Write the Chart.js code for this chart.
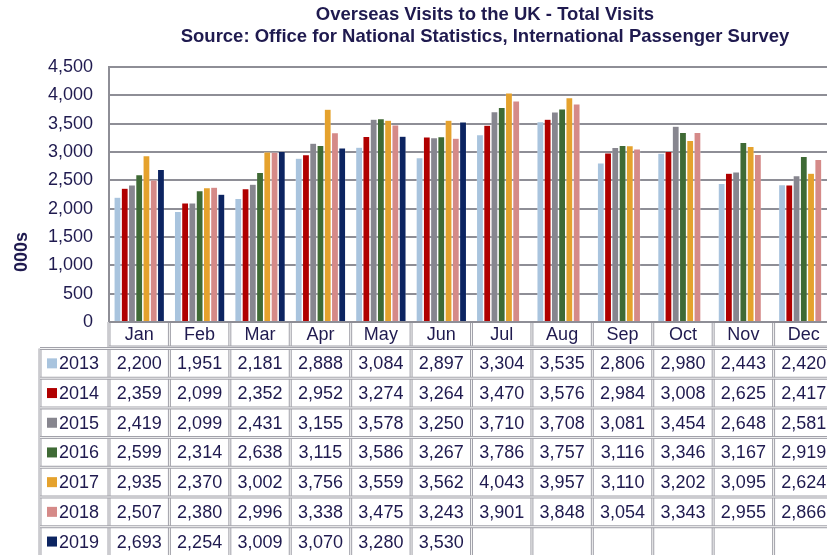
<!DOCTYPE html>
<html>
<head>
<meta charset="utf-8">
<script src="https://cdn.jsdelivr.net/npm/chart.js@4.4.1/dist/chart.umd.min.js"></script>
<style>
  html, body { margin: 0; padding: 0; background: #fff; overflow: hidden; }
  #wrap { width: 836px; height: 555px; }
</style>
</head>
<body>
<div id="wrap"><canvas id="grafico" width="836" height="555"></canvas></div>
<script>
const months = ['Jan', 'Feb', 'Mar', 'Apr', 'May', 'Jun', 'Jul', 'Aug', 'Sep', 'Oct', 'Nov', 'Dec'];
const years = ['2013', '2014', '2015', '2016', '2017', '2018', '2019'];
const v2013 = [2200, 1951, 2181, 2888, 3084, 2897, 3304, 3535, 2806, 2980, 2443, 2420];
const v2014 = [2359, 2099, 2352, 2952, 3274, 3264, 3470, 3576, 2984, 3008, 2625, 2417];
const v2015 = [2419, 2099, 2431, 3155, 3578, 3250, 3710, 3708, 3081, 3454, 2648, 2581];
const v2016 = [2599, 2314, 2638, 3115, 3586, 3267, 3786, 3757, 3116, 3346, 3167, 2919];
const v2017 = [2935, 2370, 3002, 3756, 3559, 3562, 4043, 3957, 3110, 3202, 3095, 2624];
const v2018 = [2507, 2380, 2996, 3338, 3475, 3243, 3901, 3848, 3054, 3343, 2955, 2866];
const v2019 = [2693, 2254, 3009, 3070, 3280, 3530, null, null, null, null, null, null];
const yTicks = [0, 500, 1000, 1500, 2000, 2500, 3000, 3500, 4000, 4500];

const seriesValues = [v2013, v2014, v2015, v2016, v2017, v2018, v2019];
const cores = ['#a9c4de', '#b00000', '#87868f', '#3f6a35', '#e5a22d', '#d58a88', '#0c2461'];
const corTexto = '#1f1a4f';
const corGrade = '#8e8e96';

function fmt(v) {
    return v.toLocaleString('en-US');
}

// desenha titulo, rotulo do eixo e a tabela de dados
const tabelaPlugin = {
    id: 'tabela',
    afterDraw(chart) {
        const ctx = chart.ctx;
        const area = chart.chartArea;
        const x = chart.scales.x;
        const passo = x.getPixelForValue(1) - x.getPixelForValue(0);
        const alturaCanvas = chart.height;

        ctx.save();
        // titulo
        ctx.fillStyle = corTexto;
        ctx.textAlign = 'center';
        ctx.textBaseline = 'middle';
        ctx.font = 'bold 18.5px "Liberation Sans", Arial, sans-serif';
        ctx.fillText('Overseas Visits to the UK - Total Visits', 485, 15);
        ctx.fillText('Source: Office for National Statistics, International Passenger Survey', 485, 37);

        // rotulo eixo y
        ctx.save();
        ctx.translate(22, 252);
        ctx.rotate(-Math.PI / 2);
        ctx.font = 'bold 18px "Liberation Sans", Arial, sans-serif';
        ctx.fillText('000s', 0, 0);
        ctx.restore();

        const topoCab = area.bottom;
        const fimCab = 347;
        const topoLinhas = 348.5;
        const alturaLinha = 29.7;
        const esquerdaLegenda = 40;

        // linhas da tabela
        function linhaDupla(x1, y1, x2, y2) {
            ctx.strokeStyle = '#a2a2aa';
            ctx.lineWidth = 3;
            ctx.beginPath(); ctx.moveTo(x1, y1); ctx.lineTo(x2, y2); ctx.stroke();
            ctx.strokeStyle = '#f4f4f4';
            ctx.lineWidth = 1;
            ctx.beginPath(); ctx.moveTo(x1, y1); ctx.lineTo(x2, y2); ctx.stroke();
        }

        // verticais
        for (let i = 0; i <= months.length; i++) {
            const bx = x.getPixelForValue(0) - passo / 2 + i * passo;
            linhaDupla(bx, topoCab, bx, alturaCanvas);
        }
        linhaDupla(esquerdaLegenda, topoLinhas, esquerdaLegenda, alturaCanvas);

        // horizontais
        linhaDupla(area.left, fimCab, area.right, fimCab);
        for (let r = 0; r < years.length; r++) {
            const ry = topoLinhas + r * alturaLinha;
            linhaDupla(esquerdaLegenda, ry, area.right, ry);
        }

        // eixo inferior
        ctx.strokeStyle = corGrade;
        ctx.lineWidth = 2;
        ctx.beginPath(); ctx.moveTo(area.left, area.bottom); ctx.lineTo(area.right, area.bottom); ctx.stroke();

        // cabecalho com os meses
        ctx.fillStyle = corTexto;
        ctx.font = '18px "Liberation Sans", Arial, sans-serif';
        ctx.textAlign = 'center';
        months.forEach((m, i) => {
            ctx.fillText(m, x.getPixelForValue(i), (topoCab + fimCab) / 2 + 1);
        });

        // linhas de dados
        years.forEach((ano, r) => {
            const cy = topoLinhas + r * alturaLinha + alturaLinha / 2;
            ctx.fillStyle = cores[r];
            ctx.fillRect(47, cy - 5, 10, 10);
            ctx.fillStyle = corTexto;
            ctx.textAlign = 'left';
            ctx.fillText(ano, 59, cy + 1);
            ctx.textAlign = 'center';
            seriesValues[r].forEach((v, i) => {
                if (v !== null) ctx.fillText(fmt(v), x.getPixelForValue(i), cy + 1);
            });
        });
        ctx.restore();
    }
};

const ctx = document.getElementById('grafico').getContext('2d');

new Chart(ctx, {
    type: 'bar',
    data: {
        labels: months,
        datasets: years.map((ano, k) => ({
            label: ano,
            data: seriesValues[k],
            backgroundColor: cores[k],
            borderColor: 'rgba(255,255,255,0.6)',
            borderWidth: 0.5,
            barPercentage: 0.94,
            categoryPercentage: 0.84
        }))
    },
    options: {
        responsive: false,
        animation: false,
        layout: {
            padding: { top: 67, bottom: 233, left: 0, right: 2 }
        },
        plugins: {
            legend: { display: false },
            title: { display: false },
            tooltip: { enabled: false }
        },
        scales: {
            x: {
                display: false
            },
            y: {
                min: 0,
                max: 4500,
                afterFit(scale) { scale.width = 109; },
                afterBuildTicks(scale) { scale.ticks = yTicks.map(v => ({ value: v })); },
                ticks: {
                    padding: 16,
                    color: corTexto,
                    font: { family: '"Liberation Sans", Arial, sans-serif', size: 18 },
                    callback: (v) => fmt(v)
                },
                grid: {
                    color: corGrade,
                    lineWidth: 2,
                    drawTicks: false
                },
                border: { color: corGrade, width: 2 }
            }
        }
    },
    plugins: [tabelaPlugin]
});
</script>
</body>
</html>
